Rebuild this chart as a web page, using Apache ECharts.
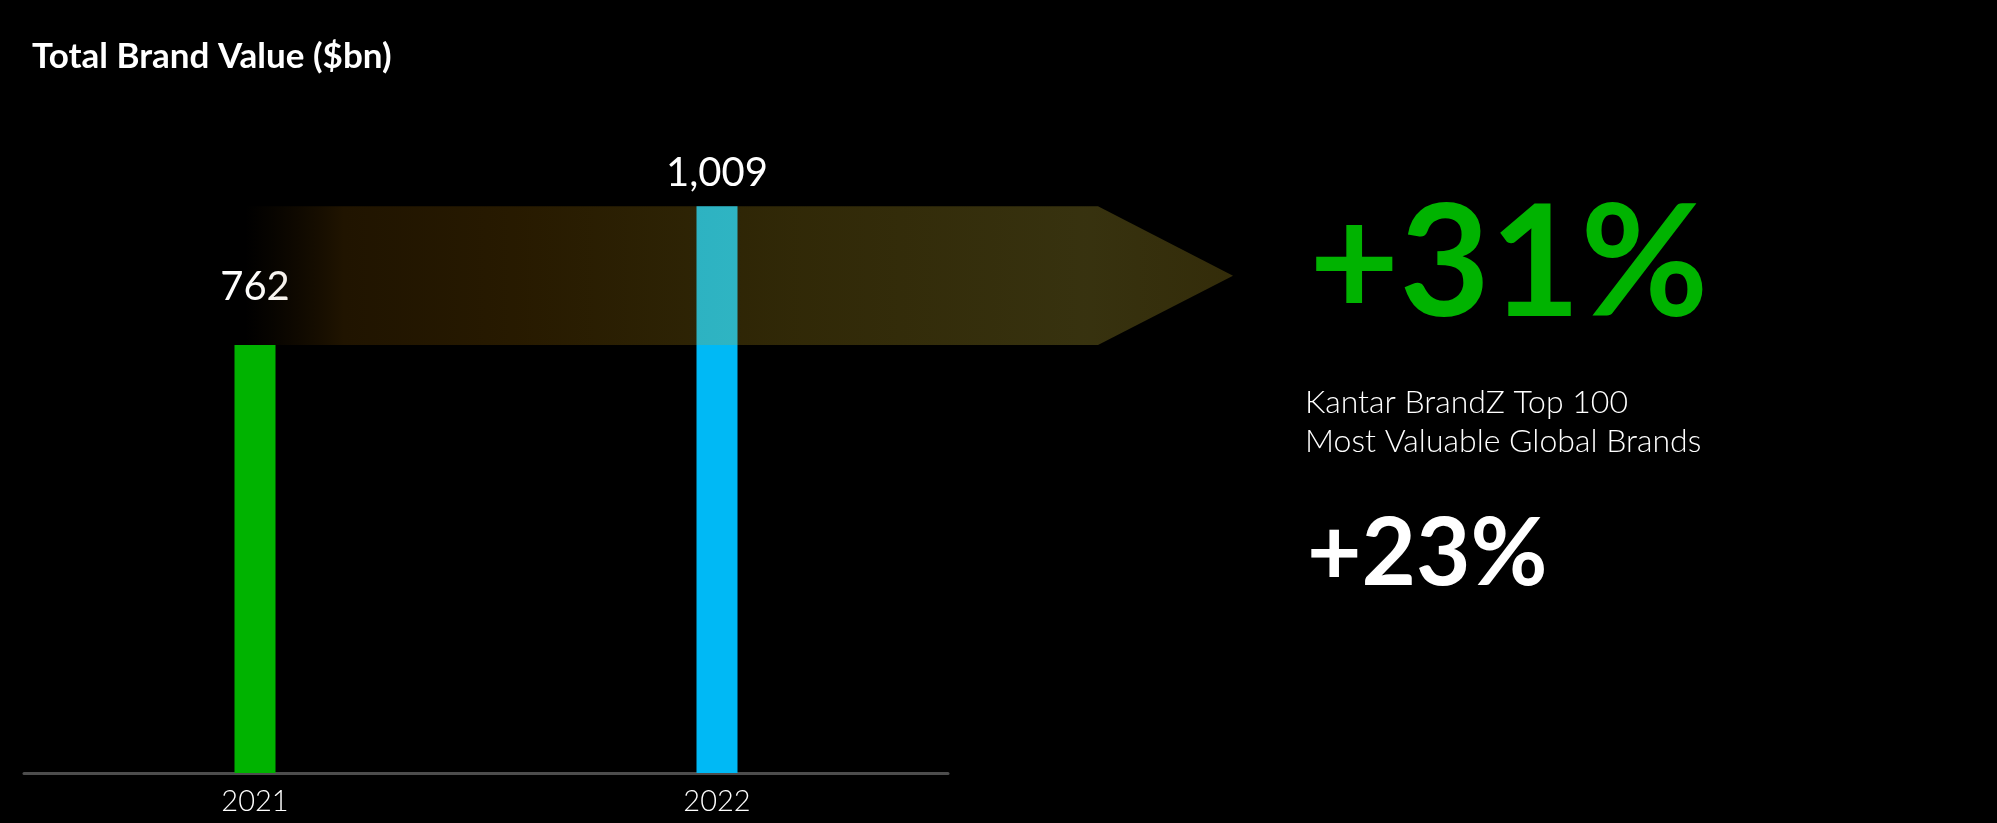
<!DOCTYPE html>
<html>
<head>
<meta charset="utf-8">
<script src="https://cdn.jsdelivr.net/npm/echarts@6/dist/echarts.min.js"></script>
<style>
  html, body { margin: 0; padding: 0; background: #000; }
  #chart { width: 1997px; height: 823px; }
</style>
</head>
<body>
<div id="chart"></div>
<script>
// years on the x axis and total brand value ($bn) for each
const years = ["2021", "2022"];
const brandValues = [762, 1009];
const barColors = ["#00b300", "#00b9f5"];
// the growth figures shown on the right
const growthTop100 = "+31%";
const growthCompare = "+23%";
const noteLines = ["Kantar BrandZ Top 100", "Most Valuable Global Brands"];

const chart = echarts.init(document.getElementById("chart"));

// label sits a bit higher above the shorter bar
const labelGaps = [38, 13];

const barData = brandValues.map((v, i) => ({
    value: v,
    itemStyle: { color: barColors[i] },
    label: { distance: labelGaps[i] },
}));

// arrow spanning from the 2021 value up to the 2022 value
const arrowData = [[0, brandValues[0], brandValues[1]]];

const renderArrow = (params, api) => {
    const top = api.coord([api.value(0), api.value(2)]);
    const bottom = api.coord([api.value(0), api.value(1)]);
    const x0 = top[0] - 10;
    const bodyEnd = x0 + 853;
    const tip = x0 + 988;
    const midY = (top[1] + bottom[1]) / 2;
    return {
        type: "polygon",
        shape: {
            points: [
                [x0, top[1]],
                [bodyEnd, top[1]],
                [tip, midY],
                [bodyEnd, bottom[1]],
                [x0, bottom[1]],
            ],
        },
        style: {
            fill: new echarts.graphic.LinearGradient(0, 0, 1, 0, [
                { offset: 0, color: "rgba(120,70,0,0)" },
                { offset: 0.1, color: "rgba(160,100,0,0.2)" },
                { offset: 0.28, color: "rgba(180,120,0,0.22)" },
                { offset: 0.55, color: "rgba(210,175,30,0.23)" },
                { offset: 0.85, color: "rgba(220,200,60,0.25)" },
                { offset: 1, color: "rgba(215,185,40,0.24)" },
            ]),
        },
    };
};

const option = {
    backgroundColor: "#000",
    animation: false,
    grid: { left: 24, top: 99, width: 924, height: 674 },
    xAxis: {
        type: "category",
        data: years,
        axisLine: { lineStyle: { color: "#4d4d4d", width: 3 } },
        axisTick: { show: false },
        axisLabel: {
            color: "#fff",
            fontSize: 29,
            fontFamily: "Lato",
            fontWeight: 300,
            margin: 14,
        },
    },
    yAxis: {
        type: "value",
        min: 0,
        max: 1200,
        show: false,
        splitLine: { show: false },
    },
    series: [
        {
            name: "Total Brand Value",
            type: "bar",
            data: barData,
            barWidth: 41,
            z: 2,
            label: {
                show: true,
                position: "top",
                color: "#fff",
                fontSize: 40,
                fontFamily: "Lato",
                formatter: (p) => p.value.toLocaleString("en-US"),
            },
        },
        {
            name: "Growth arrow",
            type: "custom",
            renderItem: renderArrow,
            data: arrowData,
            clip: false,
            z: 3,
            silent: true,
        },
    ],
    graphic: [
        {
            type: "text",
            x: 32,
            y: 57,
            style: {
                text: "Total Brand Value ($bn)",
                fill: "#fff",
                font: "bold 35px Lato",
                verticalAlign: "middle",
            },
        },
        {
            type: "text",
            x: 1309,
            y: 266,
            style: {
                text: growthTop100,
                fill: "#00b300",
                font: "bold 156px Lato",
                verticalAlign: "middle",
            },
        },
        {
            type: "text",
            x: 1305,
            y: 403,
            style: {
                text: noteLines[0],
                fill: "#fff",
                font: "300 32px Lato",
                verticalAlign: "middle",
            },
        },
        {
            type: "text",
            x: 1305,
            y: 442,
            style: {
                text: noteLines[1],
                fill: "#fff",
                font: "300 32px Lato",
                verticalAlign: "middle",
            },
        },
        {
            type: "text",
            x: 1307,
            y: 555,
            style: {
                text: growthCompare,
                fill: "#fff",
                font: "bold 94px Lato",
                verticalAlign: "middle",
            },
        },
    ],
};

chart.setOption(option);
</script>
</body>
</html>
